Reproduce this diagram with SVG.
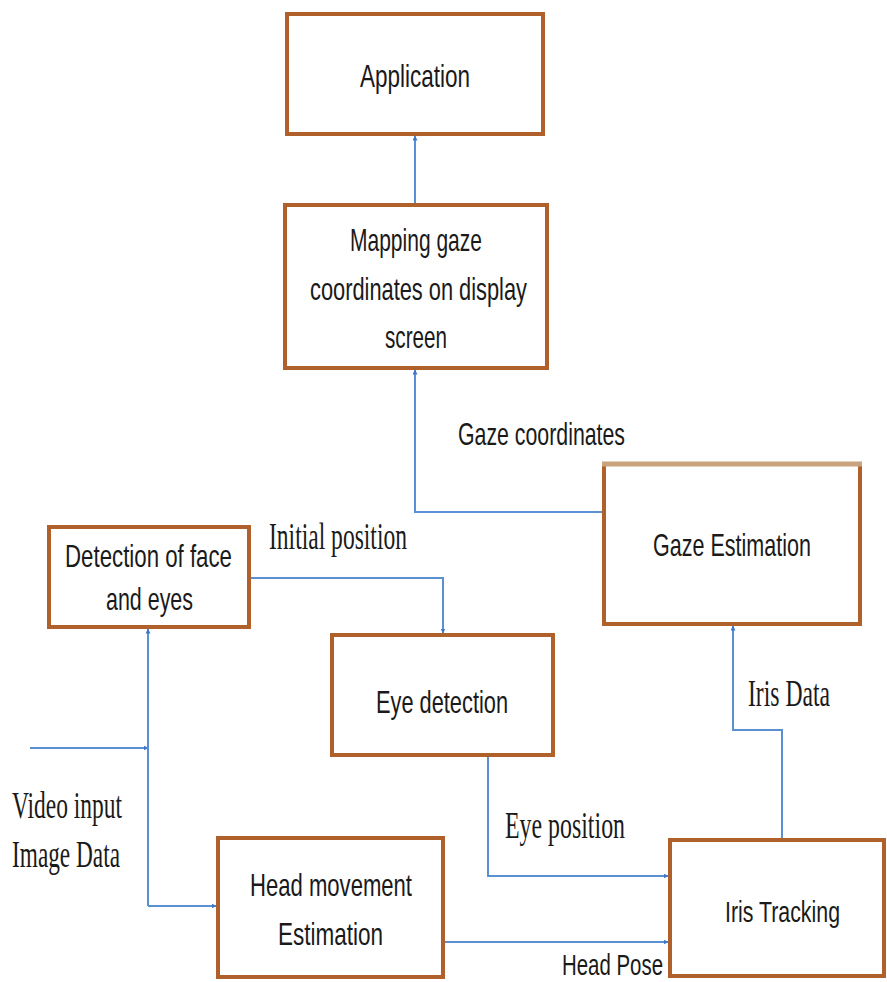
<svg xmlns="http://www.w3.org/2000/svg" width="887" height="982" viewBox="0 0 887 982">
<defs>
<style>
.box{fill:#ffffff;stroke:#b0602a;stroke-width:4}
.t{font-family:"Liberation Sans",Arial,sans-serif;font-size:32px;fill:#1a1a1a}
.s{font-family:"Liberation Serif","Times New Roman",serif;font-size:38px;fill:#1a1a1a}
.c{fill:none;stroke:#5b8fd4;stroke-width:2}
</style>
<marker id="ah" viewBox="0 0 10 10" refX="9" refY="5" markerWidth="5" markerHeight="5" orient="auto-start-reverse" markerUnits="userSpaceOnUse">
<path d="M0,0 L10,5 L0,10 z" fill="#3f78c9"/>
</marker>
</defs>
<rect width="887" height="982" fill="#ffffff"/>

<g id="connectors">
<path class="c" d="M415,205 L415,136" marker-end="url(#ah)"/>
<path class="c" d="M604,512 L415,512 L415,370" marker-end="url(#ah)"/>
<path class="c" d="M249,578 L443,578 L443,633" marker-end="url(#ah)"/>
<path class="c" d="M30,748 L148,748" marker-end="url(#ah)"/>
<path class="c" d="M148,906 L148,629" marker-end="url(#ah)"/>
<path class="c" d="M148,906 L216,906" marker-end="url(#ah)"/>
<path class="c" d="M488,755 L488,876 L668,876" marker-end="url(#ah)"/>
<path class="c" d="M443,942 L668,942" marker-end="url(#ah)"/>
<path class="c" d="M782,838 L782,730 L733,730 L733,626" marker-end="url(#ah)"/>
</g>

<g id="labels">
<text class="t" x="458" y="445" textLength="167" lengthAdjust="spacingAndGlyphs">Gaze coordinates</text>
<text class="s" x="269" y="549" textLength="138" lengthAdjust="spacingAndGlyphs">Initial position</text>
<text class="s" x="748" y="706" textLength="82" lengthAdjust="spacingAndGlyphs">Iris Data</text>
<text class="s" x="12" y="818" textLength="110" lengthAdjust="spacingAndGlyphs">Video input</text>
<text class="s" x="12" y="867" textLength="108" lengthAdjust="spacingAndGlyphs">Image Data</text>
<text class="s" x="505" y="838" textLength="120" lengthAdjust="spacingAndGlyphs">Eye position</text>
<text class="t" x="562" y="975" style="font-size:30px" textLength="101" lengthAdjust="spacingAndGlyphs">Head Pose</text>
</g>

<g id="application">
<rect class="box" x="287" y="14" width="256" height="120"/>
<text class="t" x="360" y="87" textLength="110" lengthAdjust="spacingAndGlyphs">Application</text>
</g>

<g id="mapping">
<rect class="box" x="285" y="205" width="262" height="163"/>
<text class="t" x="350" y="251" textLength="132" lengthAdjust="spacingAndGlyphs">Mapping gaze</text>
<text class="t" x="310" y="300" textLength="217" lengthAdjust="spacingAndGlyphs">coordinates on display</text>
<text class="t" x="385" y="348" textLength="62" lengthAdjust="spacingAndGlyphs">screen</text>
</g>

<g id="gaze-estimation">
<rect class="box" x="604" y="464" width="256" height="160"/>
<line x1="602" y1="464" x2="862" y2="464" stroke="#c9a27e" stroke-width="5"/>
<text class="t" x="653" y="556" textLength="158" lengthAdjust="spacingAndGlyphs">Gaze Estimation</text>
</g>

<g id="detection">
<rect class="box" x="49" y="527" width="200" height="100"/>
<text class="t" x="65" y="567" textLength="167" lengthAdjust="spacingAndGlyphs">Detection of face</text>
<text class="t" x="106" y="610" textLength="87" lengthAdjust="spacingAndGlyphs">and eyes</text>
</g>

<g id="eye-detection">
<rect class="box" x="332" y="635" width="221" height="120"/>
<text class="t" x="376" y="713" textLength="132" lengthAdjust="spacingAndGlyphs">Eye detection</text>
</g>

<g id="head-movement">
<rect class="box" x="218" y="838" width="225" height="139"/>
<text class="t" x="250" y="896" textLength="162" lengthAdjust="spacingAndGlyphs">Head movement</text>
<text class="t" x="278" y="945" textLength="105" lengthAdjust="spacingAndGlyphs">Estimation</text>
</g>

<g id="iris-tracking">
<rect class="box" x="670" y="840" width="214" height="136"/>
<text class="t" x="725" y="922" style="font-size:29px" textLength="115" lengthAdjust="spacingAndGlyphs">Iris Tracking</text>
</g>
</svg>
